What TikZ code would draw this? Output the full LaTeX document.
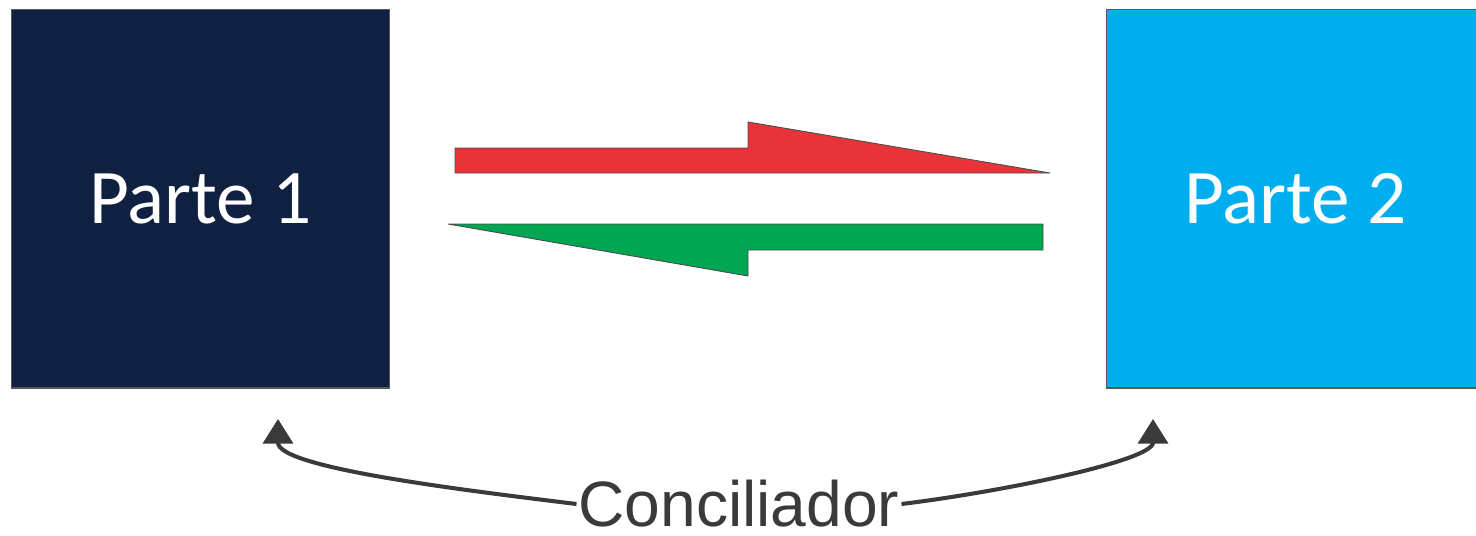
\documentclass[tikz,border=0pt]{standalone}
\usepackage{fontspec}
\setmainfont{Carlito}
\newfontfamily\arialfont{Liberation Sans}
\usetikzlibrary{arrows.meta}
\definecolor{navybox}{HTML}{0F2041}
\definecolor{cyanbox}{HTML}{00AEEF}
\definecolor{redarrow}{HTML}{E83338}
\definecolor{greenarrow}{HTML}{00A651}
\definecolor{darkline}{HTML}{3A3A3A}

\begin{document}
\begin{tikzpicture}[x=0.02cm, y=-0.02cm,
    parte/.style={draw=black!65, line width=0.6pt, minimum size=7.58cm,
      inner sep=0pt, text=white, font=\fontsize{44}{50}\selectfont},
    flecha/.style={draw=black!70, line width=0.5pt},
    curva/.style={darkline, line width=2.3pt,
      -{Triangle[width=17pt,length=14pt]}}]
    \useasboundingbox (0,0) rectangle (1476,535);
    \clip (0,0) rectangle (1476,535);
    \node[parte, fill=navybox] (p1) at (200.5,198.5) {Parte 1};
    \node[parte, fill=cyanbox] (p2) at (1295.5,198.5) {Parte 2};
    \fill[flecha, fill=redarrow] (455,148) -- (748,148) -- (748,122)
      -- (1050,173) -- (455,173) -- cycle;
    \fill[flecha, fill=greenarrow] (1043,224) -- (448,224) -- (748,276)
      -- (748,250) -- (1043,250) -- cycle;
    \node[font=\arialfont\fontsize{36.5}{42}\selectfont, text=darkline,
      inner sep=1pt] (conc) at (739,504) {Conciliador};
    \coordinate (t1) at (278,419);
    \coordinate (t2) at (1153,419);
    \draw[curva] (conc.west) to[out=173, in=-90, out looseness=1, in looseness=0.4] (t1);
    \draw[curva] (conc.east) to[out=7, in=-90, out looseness=1, in looseness=0.4] (t2);
  \end{tikzpicture}
\end{document}
